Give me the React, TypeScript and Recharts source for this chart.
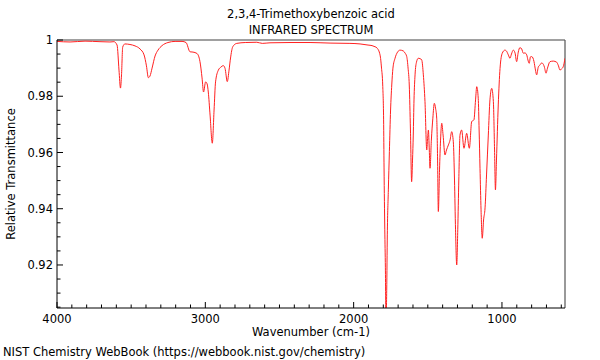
import React from 'react';
import { LineChart, Line, XAxis, YAxis, ReferenceLine } from 'recharts';

const wavenumbers = [
  4000, 3912, 3811, 3710, 3643, 3616, 3595, 3582, 3572, 3565, 3557, 3542, 3508, 3474, 3440, 3413,
  3397, 3384, 3373, 3359, 3339, 3319, 3292, 3252, 3204, 3157, 3130, 3103, 3083, 3056, 3036, 3022,
  3012, 2998, 2988, 2980, 2968, 2953, 2941, 2931, 2912, 2894, 2879, 2867, 2852, 2840, 2830, 2815,
  2788, 2731, 2653, 2616, 2564, 2429, 2294, 2159, 2025, 1957, 1903, 1876, 1856, 1843, 1822, 1812,
  1804, 1798, 1795, 1790, 1786, 1782, 1777, 1773, 1766, 1759, 1751, 1743, 1735, 1721, 1704, 1687,
  1665, 1654, 1642, 1633, 1625, 1617, 1609, 1603, 1598, 1593, 1586, 1576, 1564, 1553, 1541, 1530,
  1519, 1507, 1502, 1496, 1490, 1485, 1476, 1466, 1456, 1448, 1440, 1434, 1429, 1421, 1414, 1406,
  1397, 1384, 1374, 1361, 1350, 1339, 1328, 1320, 1313, 1305, 1298, 1291, 1283, 1272, 1256, 1238,
  1220, 1204, 1189, 1178, 1170, 1160, 1154, 1148, 1141, 1133, 1124, 1114, 1104, 1092, 1081, 1069,
  1058, 1050, 1044, 1037, 1025, 1013, 998, 980, 970, 957, 946, 936, 924, 912, 901, 890,
  879, 867, 856, 845, 833, 825, 816, 808, 800, 791, 784, 774, 766, 755, 744, 734,
  726, 714, 703, 693, 676, 654, 631, 619, 609, 599, 587, 575,
];

const transmittance = [
  0.9995, 0.9993, 0.9996, 0.9994, 0.9993, 0.9994, 0.9982, 0.9893, 0.9829, 0.9876, 0.9975, 0.9986, 0.9984, 0.9979, 0.9968, 0.9947,
  0.9908, 0.9866, 0.9872, 0.99, 0.9943, 0.9964, 0.998, 0.9991, 0.9995, 0.9995, 0.9991, 0.9958, 0.9957, 0.9952, 0.9923, 0.9865,
  0.9815, 0.9851, 0.9844, 0.9815, 0.9733, 0.9633, 0.9751, 0.9851, 0.9893, 0.9904, 0.9909, 0.9899, 0.9852, 0.9893, 0.9936, 0.9976,
  0.9988, 0.9991, 0.9992, 0.9988, 0.999, 0.9991, 0.9991, 0.9989, 0.9988, 0.9986, 0.9982, 0.998, 0.9976, 0.9972, 0.9947, 0.99,
  0.984, 0.9716, 0.9545, 0.9325, 0.919, 0.9, 0.911, 0.9307, 0.9467, 0.9603, 0.9751, 0.984, 0.99, 0.9935, 0.9957, 0.9964,
  0.9961, 0.9954, 0.9941, 0.99, 0.984, 0.968, 0.9496, 0.9573, 0.9662, 0.9787, 0.9876, 0.9922, 0.9935, 0.9934, 0.9929, 0.9876,
  0.9781, 0.9609, 0.9644, 0.968, 0.9609, 0.9544, 0.9644, 0.9722, 0.9775, 0.9758, 0.9722, 0.9573, 0.939, 0.9538, 0.9644, 0.9704,
  0.9662, 0.9591, 0.9609, 0.9627, 0.9644, 0.9674, 0.9638, 0.9502, 0.9325, 0.92, 0.9325, 0.9502, 0.9662, 0.968, 0.9615, 0.9668,
  0.9615, 0.971, 0.9716, 0.9787, 0.9834, 0.9793, 0.968, 0.9544, 0.9396, 0.9295, 0.936, 0.9403, 0.952, 0.9662, 0.9787, 0.9828,
  0.9781, 0.9609, 0.9467, 0.9573, 0.9769, 0.9899, 0.9953, 0.9964, 0.9961, 0.9947, 0.9935, 0.995, 0.9964, 0.9954, 0.9923, 0.9957,
  0.9973, 0.9968, 0.9953, 0.9954, 0.9947, 0.9929, 0.9917, 0.994, 0.9941, 0.9936, 0.9923, 0.9893, 0.9876, 0.9904, 0.9911, 0.9918,
  0.9917, 0.9904, 0.9882, 0.99, 0.9923, 0.9925, 0.9921, 0.9908, 0.9893, 0.9897, 0.9905, 0.9935,
];

const majorXTicks = [4000, 3000, 2000, 1000];
const xTickLabels = ['4000', '3000', '2000', '1000'];
const minorXTicks = [
  3900, 3800, 3700, 3600, 3500, 3400, 3300, 3200, 3100,
  2900, 2800, 2700, 2600, 2500, 2400, 2300, 2200, 2100,
  1900, 1800, 1700, 1600, 1500, 1400, 1300, 1200, 1100,
  900, 800, 700, 600,
];
const majorYTicks = [1, 0.98, 0.96, 0.94, 0.92];
const yTickLabels = ['1', '0.98', '0.96', '0.94', '0.92'];
const minorYTicks = [
  0.995, 0.99, 0.985, 0.975, 0.97, 0.965, 0.955, 0.95, 0.945,
  0.935, 0.93, 0.925, 0.915, 0.91, 0.905,
];

const X_MIN = 575;
const X_MAX = 4000;
const Y_MIN = 0.9047;
const Y_MAX = 1;

const data = wavenumbers.map((w, i) => ({ w, t: transmittance[i] }));
const allXTicks = [...majorXTicks, ...minorXTicks].sort((a, b) => b - a);
const allYTicks = [...majorYTicks, ...minorYTicks].sort((a, b) => b - a);

const FONT = '"DejaVu Sans", sans-serif';
const FS = 11.5;

const findMajor = (arr: number[], v: number) => arr.findIndex((m) => Math.abs(m - v) < 1e-9);

const XTick = (props: any) => {
  const { x, y, payload } = props;
  const idx = findMajor(majorXTicks, payload.value);
  const len = idx >= 0 ? 6 : 3.5;
  return (
    <g>
      <line x1={x} x2={x} y1={y} y2={y - len} stroke="#000" strokeWidth={1} />
      {idx >= 0 && (
        <text x={x} y={y + 14.5} textAnchor="middle" fontSize={FS} fontFamily={FONT} fill="#000">
          {xTickLabels[idx]}
        </text>
      )}
    </g>
  );
};

const YTick = (props: any) => {
  const { x, y, payload } = props;
  const idx = findMajor(majorYTicks, payload.value);
  const len = idx >= 0 ? 6 : 3.5;
  return (
    <g>
      <line x1={x} x2={x + len} y1={y} y2={y} stroke="#000" strokeWidth={1} />
      {idx >= 0 && (
        <text x={x - 4} y={y} dy="0.36em" textAnchor="end" fontSize={FS} fontFamily={FONT} fill="#000">
          {yTickLabels[idx]}
        </text>
      )}
    </g>
  );
};

export default function App() {
  return (
    <div style={{ position: 'absolute', left: 0, top: 0, width: 600, height: 360, background: '#fff' }}>
      <LineChart width={600} height={360} data={data} margin={{ top: 40, right: 35, left: 0, bottom: 0 }}>
        <XAxis
          dataKey="w"
          type="number"
          domain={[X_MIN, X_MAX]}
          reversed
          allowDataOverflow
          ticks={allXTicks}
          interval={0}
          tick={<XTick />}
          tickSize={0}
          tickMargin={0}
          tickLine={false}
          axisLine={{ stroke: '#000', strokeWidth: 1 }}
          height={52}
        />
        <YAxis
          dataKey="t"
          type="number"
          domain={[Y_MIN, Y_MAX]}
          allowDataOverflow
          ticks={allYTicks}
          interval={0}
          tick={<YTick />}
          tickSize={0}
          tickMargin={0}
          tickLine={false}
          axisLine={{ stroke: '#000', strokeWidth: 1 }}
          width={57}
        />
        <ReferenceLine y={Y_MAX} stroke="#a0a0a0" strokeWidth={2} />
        <ReferenceLine x={X_MIN} stroke="#555" strokeWidth={1.2} />
        <Line
          dataKey="t"
          type="monotone"
          stroke="#ff2020"
          strokeWidth={1}
          dot={false}
          isAnimationActive={false}
        />
      </LineChart>
      <svg
        width={600}
        height={360}
        style={{ position: 'absolute', left: 0, top: 0, pointerEvents: 'none' }}
        fontFamily={FONT}
        fontSize={FS}
      >
        <text x={311} y={18} textAnchor="middle" fill="#000">2,3,4-Trimethoxybenzoic acid</text>
        <text x={311} y={34} textAnchor="middle" fill="#000">INFRARED SPECTRUM</text>
        <text x={311} y={336} textAnchor="middle" fill="#000">Wavenumber (cm-1)</text>
        <text x={3} y={356} textAnchor="start" fill="#000">NIST Chemistry WebBook (https://webbook.nist.gov/chemistry)</text>
        <text x={11} y={174} dy="0.36em" textAnchor="middle" fill="#000" transform="rotate(-90 11 174)">
          Relative Transmittance
        </text>
      </svg>
    </div>
  );
}
